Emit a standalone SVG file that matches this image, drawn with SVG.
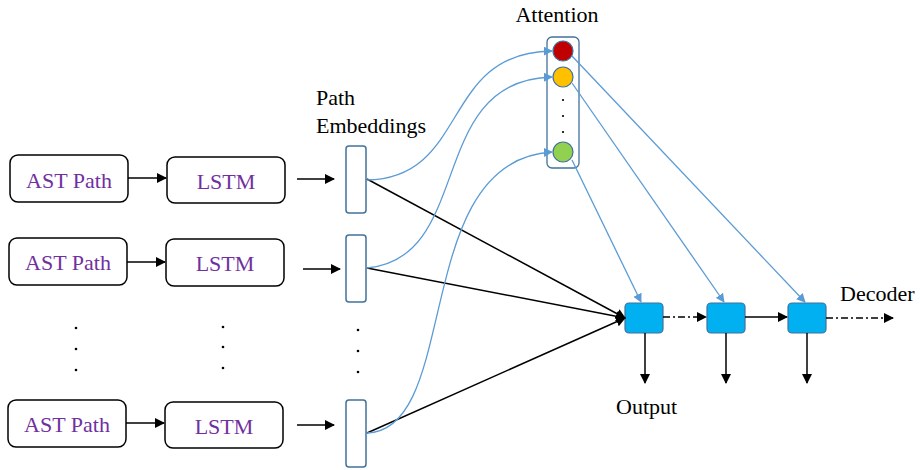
<svg xmlns="http://www.w3.org/2000/svg" width="922" height="470" viewBox="0 0 922 470">
<defs>
<marker id="ab" viewBox="0 0 10 10" refX="9" refY="5" markerWidth="10" markerHeight="10" markerUnits="userSpaceOnUse" orient="auto"><path d="M0,0 L10,5 L0,10 z" fill="#000"/></marker>
<marker id="au" viewBox="0 0 10 10" refX="9" refY="5" markerWidth="9" markerHeight="9" markerUnits="userSpaceOnUse" orient="auto"><path d="M0,0 L10,5 L0,10 z" fill="#5B9BD5"/></marker>
<style>
.box{fill:#fff;stroke:#000;stroke-width:1.5}
.emb{fill:#fff;stroke:#41719C;stroke-width:1.5}
.dec{fill:#00B0F0;stroke:#41719C;stroke-width:1.2}
.pt{font-size:22px;fill:#7030A0;text-anchor:middle}
.lb{font-size:22px;fill:#000}
.k{stroke:#000;stroke-width:1.5;fill:none}
.b{stroke:#5B9BD5;stroke-width:1.3;fill:none}
.dot{fill:#000}
</style>
</defs>
<g font-family="'Liberation Serif', 'DejaVu Serif', serif">
<g id="ast1"><rect class="box" x="10" y="155" width="118" height="47" rx="8"/><text class="pt" x="69" y="188">AST Path</text></g>
<g id="ast2"><rect class="box" x="9" y="238" width="118" height="47" rx="8"/><text class="pt" x="68" y="270">AST Path</text></g>
<g id="ast3"><rect class="box" x="8" y="400" width="118" height="47" rx="8"/><text class="pt" x="67" y="432">AST Path</text></g>
<g id="lstm1"><rect class="box" x="167" y="157" width="118" height="46" rx="8"/><text class="pt" x="226" y="189">LSTM</text></g>
<g id="lstm2"><rect class="box" x="166" y="239" width="118" height="47" rx="8"/><text class="pt" x="225" y="271">LSTM</text></g>
<g id="lstm3"><rect class="box" x="165" y="402" width="118" height="46" rx="8"/><text class="pt" x="224" y="434">LSTM</text></g>
<g id="emb1"><rect class="emb" x="346" y="146" width="20" height="67" rx="3"/></g>
<g id="emb2"><rect class="emb" x="346" y="235" width="20" height="67" rx="3"/></g>
<g id="emb3"><rect class="emb" x="346" y="400" width="20" height="67" rx="3"/></g>
<g id="emb-label"><text class="lb" x="316" y="105">Path</text><text class="lb" x="316" y="133">Embeddings</text></g>
<g id="dots">
<circle class="dot" cx="76" cy="328" r="1.3"/><circle class="dot" cx="76" cy="349" r="1.3"/><circle class="dot" cx="76" cy="370" r="1.3"/>
<circle class="dot" cx="223" cy="327" r="1.3"/><circle class="dot" cx="223" cy="347" r="1.3"/><circle class="dot" cx="223" cy="368" r="1.3"/>
<circle class="dot" cx="358" cy="330" r="1.3"/><circle class="dot" cx="358" cy="351" r="1.3"/><circle class="dot" cx="358" cy="372" r="1.3"/>
</g>
<g id="attention">
<text class="lb" x="557" y="22" text-anchor="middle">Attention</text>
<rect x="547" y="37" width="32" height="131" rx="5" fill="#fff" stroke="#41719C" stroke-width="1.3"/>
<circle cx="563" cy="51" r="10" fill="#C00000" stroke="#41719C" stroke-width="1.2"/>
<circle cx="563" cy="77" r="10" fill="#FFC000" stroke="#41719C" stroke-width="1.2"/>
<circle cx="563" cy="152" r="10" fill="#92D050" stroke="#41719C" stroke-width="1.2"/>
<circle class="dot" cx="563" cy="100" r="1.1"/><circle class="dot" cx="563" cy="116" r="1.1"/><circle class="dot" cx="563" cy="132" r="1.1"/>
</g>
<g id="dec1"><rect class="dec" x="625" y="303" width="38" height="30" rx="4"/></g>
<g id="dec2"><rect class="dec" x="707" y="303" width="38" height="30" rx="4"/></g>
<g id="dec3"><rect class="dec" x="788" y="303" width="38" height="30" rx="4"/></g>
<g id="labels"><text class="lb" x="840" y="301">Decoder</text><text class="lb" x="616" y="414">Output</text></g>
</g>
<g id="connectors">
<line class="k" x1="128" y1="178" x2="166" y2="178" marker-end="url(#ab)"/>
<line class="k" x1="127" y1="262" x2="165" y2="262" marker-end="url(#ab)"/>
<line class="k" x1="126" y1="423" x2="164" y2="423" marker-end="url(#ab)"/>
<line class="k" x1="297" y1="179" x2="334" y2="179" marker-end="url(#ab)"/>
<line class="k" x1="303" y1="269" x2="340" y2="269" marker-end="url(#ab)"/>
<line class="k" x1="297" y1="425" x2="334" y2="425" marker-end="url(#ab)"/>
<line class="k" x1="367" y1="179" x2="625" y2="318" marker-end="url(#ab)"/>
<line class="k" x1="367" y1="268" x2="625" y2="318" marker-end="url(#ab)"/>
<line class="k" x1="367" y1="433" x2="625" y2="318" marker-end="url(#ab)"/>
<path class="b" d="M367,180 C470,178 440,52 552,51" marker-end="url(#au)"/>
<path class="b" d="M367,268 C475,258 425,80 552,77" marker-end="url(#au)"/>
<path class="b" d="M367,433 C462,430 410,160 552,152" marker-end="url(#au)"/>
<line class="b" x1="572" y1="56" x2="805" y2="302" marker-end="url(#au)"/>
<line class="b" x1="572" y1="83" x2="724" y2="302" marker-end="url(#au)"/>
<line class="b" x1="572" y1="160" x2="641" y2="302" marker-end="url(#au)"/>
<line class="k" x1="663" y1="317" x2="706" y2="317" stroke-dasharray="7 3 2 3" marker-end="url(#ab)"/>
<line class="k" x1="745" y1="317" x2="787" y2="317" marker-end="url(#ab)"/>
<line class="k" x1="826" y1="318" x2="893" y2="318" stroke-dasharray="7 3 2 3" marker-end="url(#ab)"/>
<line class="k" x1="645" y1="333" x2="645" y2="383" marker-end="url(#ab)"/>
<line class="k" x1="726" y1="333" x2="726" y2="383" marker-end="url(#ab)"/>
<line class="k" x1="807" y1="333" x2="807" y2="383" marker-end="url(#ab)"/>
</g>
</svg>
